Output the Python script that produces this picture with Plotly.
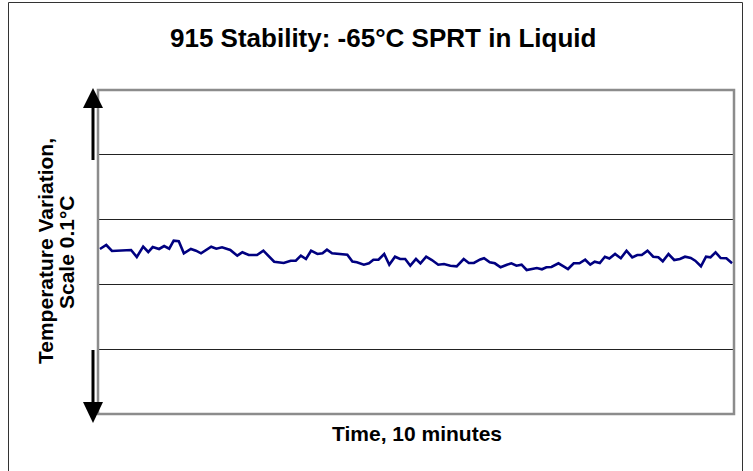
import plotly.graph_objects as go

# Time (minutes) and temperature variation (mK)
time_min = [0.03, 0.13, 0.22, 0.36, 0.52, 0.61, 0.71, 0.79, 0.86, 0.96, 1.04, 1.12, 1.19, 1.27,
            1.35, 1.46, 1.54, 1.62, 1.78, 1.86, 1.95, 2.08, 2.19, 2.27, 2.37, 2.50, 2.60, 2.77,
            2.92, 3.03, 3.11, 3.19, 3.27, 3.35, 3.45, 3.53, 3.60, 3.68, 3.82, 3.92, 4.00, 4.07,
            4.18, 4.26, 4.33, 4.41, 4.50, 4.58, 4.67, 4.75, 4.83, 4.91, 5.00, 5.07, 5.16, 5.25,
            5.35, 5.44, 5.54, 5.64, 5.75, 5.83, 5.91, 6.01, 6.07, 6.16, 6.24, 6.33, 6.43, 6.50,
            6.58, 6.66, 6.74, 6.82, 6.90, 6.98, 7.05, 7.13, 7.24, 7.32, 7.39, 7.48, 7.57, 7.66,
            7.74, 7.81, 7.89, 7.97, 8.04, 8.13, 8.22, 8.31, 8.40, 8.48, 8.55, 8.64, 8.73, 8.81,
            8.88, 8.97, 9.06, 9.15, 9.23, 9.32, 9.39, 9.48, 9.56, 9.63, 9.71, 9.79, 9.88, 9.97]
variation_mK = [0.93, 2.16, 0.31, 0.40, 0.62, -1.54, 1.64, 0.00, 1.54, 0.93, 1.85, 1.02, 3.49, 3.30,
                -0.40, 0.93, 0.40, -0.40, 1.64, 1.02, 1.45, 0.62, -1.14, -0.09, -0.93, -0.93, 0.40, -2.99,
                -3.39, -2.68, -2.68, -1.14, -2.16, 0.40, -0.62, -0.40, 0.71, -0.40, -0.62, -0.83, -2.93, -3.18,
                -3.92, -3.49, -2.38, -2.38, -0.62, -3.92, -1.45, -2.16, -2.16, -4.23, -2.16, -3.49, -1.45, -2.47,
                -3.92, -3.70, -4.23, -4.41, -2.16, -3.39, -3.39, -2.31, -1.94, -3.18, -3.49, -4.72, -3.92, -3.49,
                -4.23, -3.92, -5.55, -5.25, -4.94, -5.34, -4.72, -4.63, -3.49, -4.41, -5.25, -3.49, -3.49, -2.38,
                -3.92, -2.99, -3.39, -1.45, -2.01, -0.62, -1.94, 0.40, -1.64, -0.93, -0.93, 0.40, -1.45, -1.64,
                -2.87, -0.62, -2.47, -2.16, -1.45, -1.85, -2.68, -4.41, -1.45, -1.64, -0.09, -1.85, -1.94, -3.49]

title_text = "915 Stability: -65°C SPRT in Liquid"
x_title = "Time, 10 minutes"
y_title_lines = ["Temperature Variation,", "Scale 0.1°C"]

W, H = 753, 471
L, R, T, B = 98, 734, 90, 414  # plot area in pixels


def px(x):
    return (x - L) / (R - L)


def py(y):
    return (B - y) / (B - T)


FONT = "Liberation Sans, Arial, sans-serif"

fig = go.Figure()
fig.add_trace(go.Scatter(x=time_min, y=variation_mK, mode="lines",
                         line=dict(color="#000080", width=2.6), showlegend=False,
                         hoverinfo="skip"))

shapes = []
# outer frame (left, top, right edges)
frame_path = f"M {px(8.5)} {py(480)} L {px(8.5)} {py(2.5)} L {px(742.5)} {py(2.5)} L {px(742.5)} {py(480)}"
shapes.append(dict(type="path", xref="paper", yref="paper", path=frame_path,
                   line=dict(color="#333333", width=1), layer="below"))
# plot area border
shapes.append(dict(type="rect", xref="paper", yref="paper", x0=0, x1=1, y0=0, y1=1,
                   line=dict(color="#8c8c8c", width=2.5), layer="above"))
# double arrow: shafts
shapes.append(dict(type="line", xref="paper", yref="paper", x0=px(93), x1=px(93), y0=py(106), y1=py(160),
                   line=dict(color="black", width=3)))
shapes.append(dict(type="line", xref="paper", yref="paper", x0=px(93), x1=px(93), y0=py(350), y1=py(404),
                   line=dict(color="black", width=3)))
# arrow heads
top_head = f"M {px(93)} {py(88)} L {px(83)} {py(108)} L {px(103)} {py(108)} Z"
bot_head = f"M {px(93)} {py(423)} L {px(83)} {py(402)} L {px(103)} {py(402)} Z"
for pth in (top_head, bot_head):
    shapes.append(dict(type="path", xref="paper", yref="paper", path=pth,
                       fillcolor="black", line=dict(color="black", width=0)))

annotations = [
    dict(text=f"<b>{title_text}</b>", xref="paper", yref="paper", x=px(383), y=py(38),
         showarrow=False, font=dict(family=FONT, size=26, color="black"), xanchor="center", yanchor="middle"),
    dict(text=f"<b>{x_title}</b>", xref="paper", yref="paper", x=px(417), y=py(433),
         showarrow=False, font=dict(family=FONT, size=21, color="black"), xanchor="center", yanchor="middle"),
    dict(text=f"<b>{y_title_lines[0]}</b>", xref="paper", yref="paper",
         x=px(45), y=py(251), textangle=-90, showarrow=False,
         font=dict(family=FONT, size=21, color="black"), xanchor="center", yanchor="middle"),
    dict(text=f"<b>{y_title_lines[1]}</b>", xref="paper", yref="paper",
         x=px(66), y=py(253), textangle=-90, showarrow=False,
         font=dict(family=FONT, size=21, color="black"), xanchor="center", yanchor="middle"),
]

fig.update_layout(
    width=W, height=H,
    margin=dict(l=L, r=W - R, t=T, b=H - B, pad=0),
    paper_bgcolor="white", plot_bgcolor="white",
    shapes=shapes, annotations=annotations,
    xaxis=dict(range=[0, 10], showgrid=False, zeroline=False, showticklabels=False, ticks="",
               showline=False, fixedrange=True),
    yaxis=dict(range=[-50, 50], tick0=10, dtick=20, showgrid=True, gridcolor="#222222", gridwidth=1,
               zeroline=False, showticklabels=False, ticks="", showline=False, fixedrange=True),
)

fig.write_html("out.html", config={"displayModeBar": False, "staticPlot": True},
               post_script="document.body.style.margin='0';")
